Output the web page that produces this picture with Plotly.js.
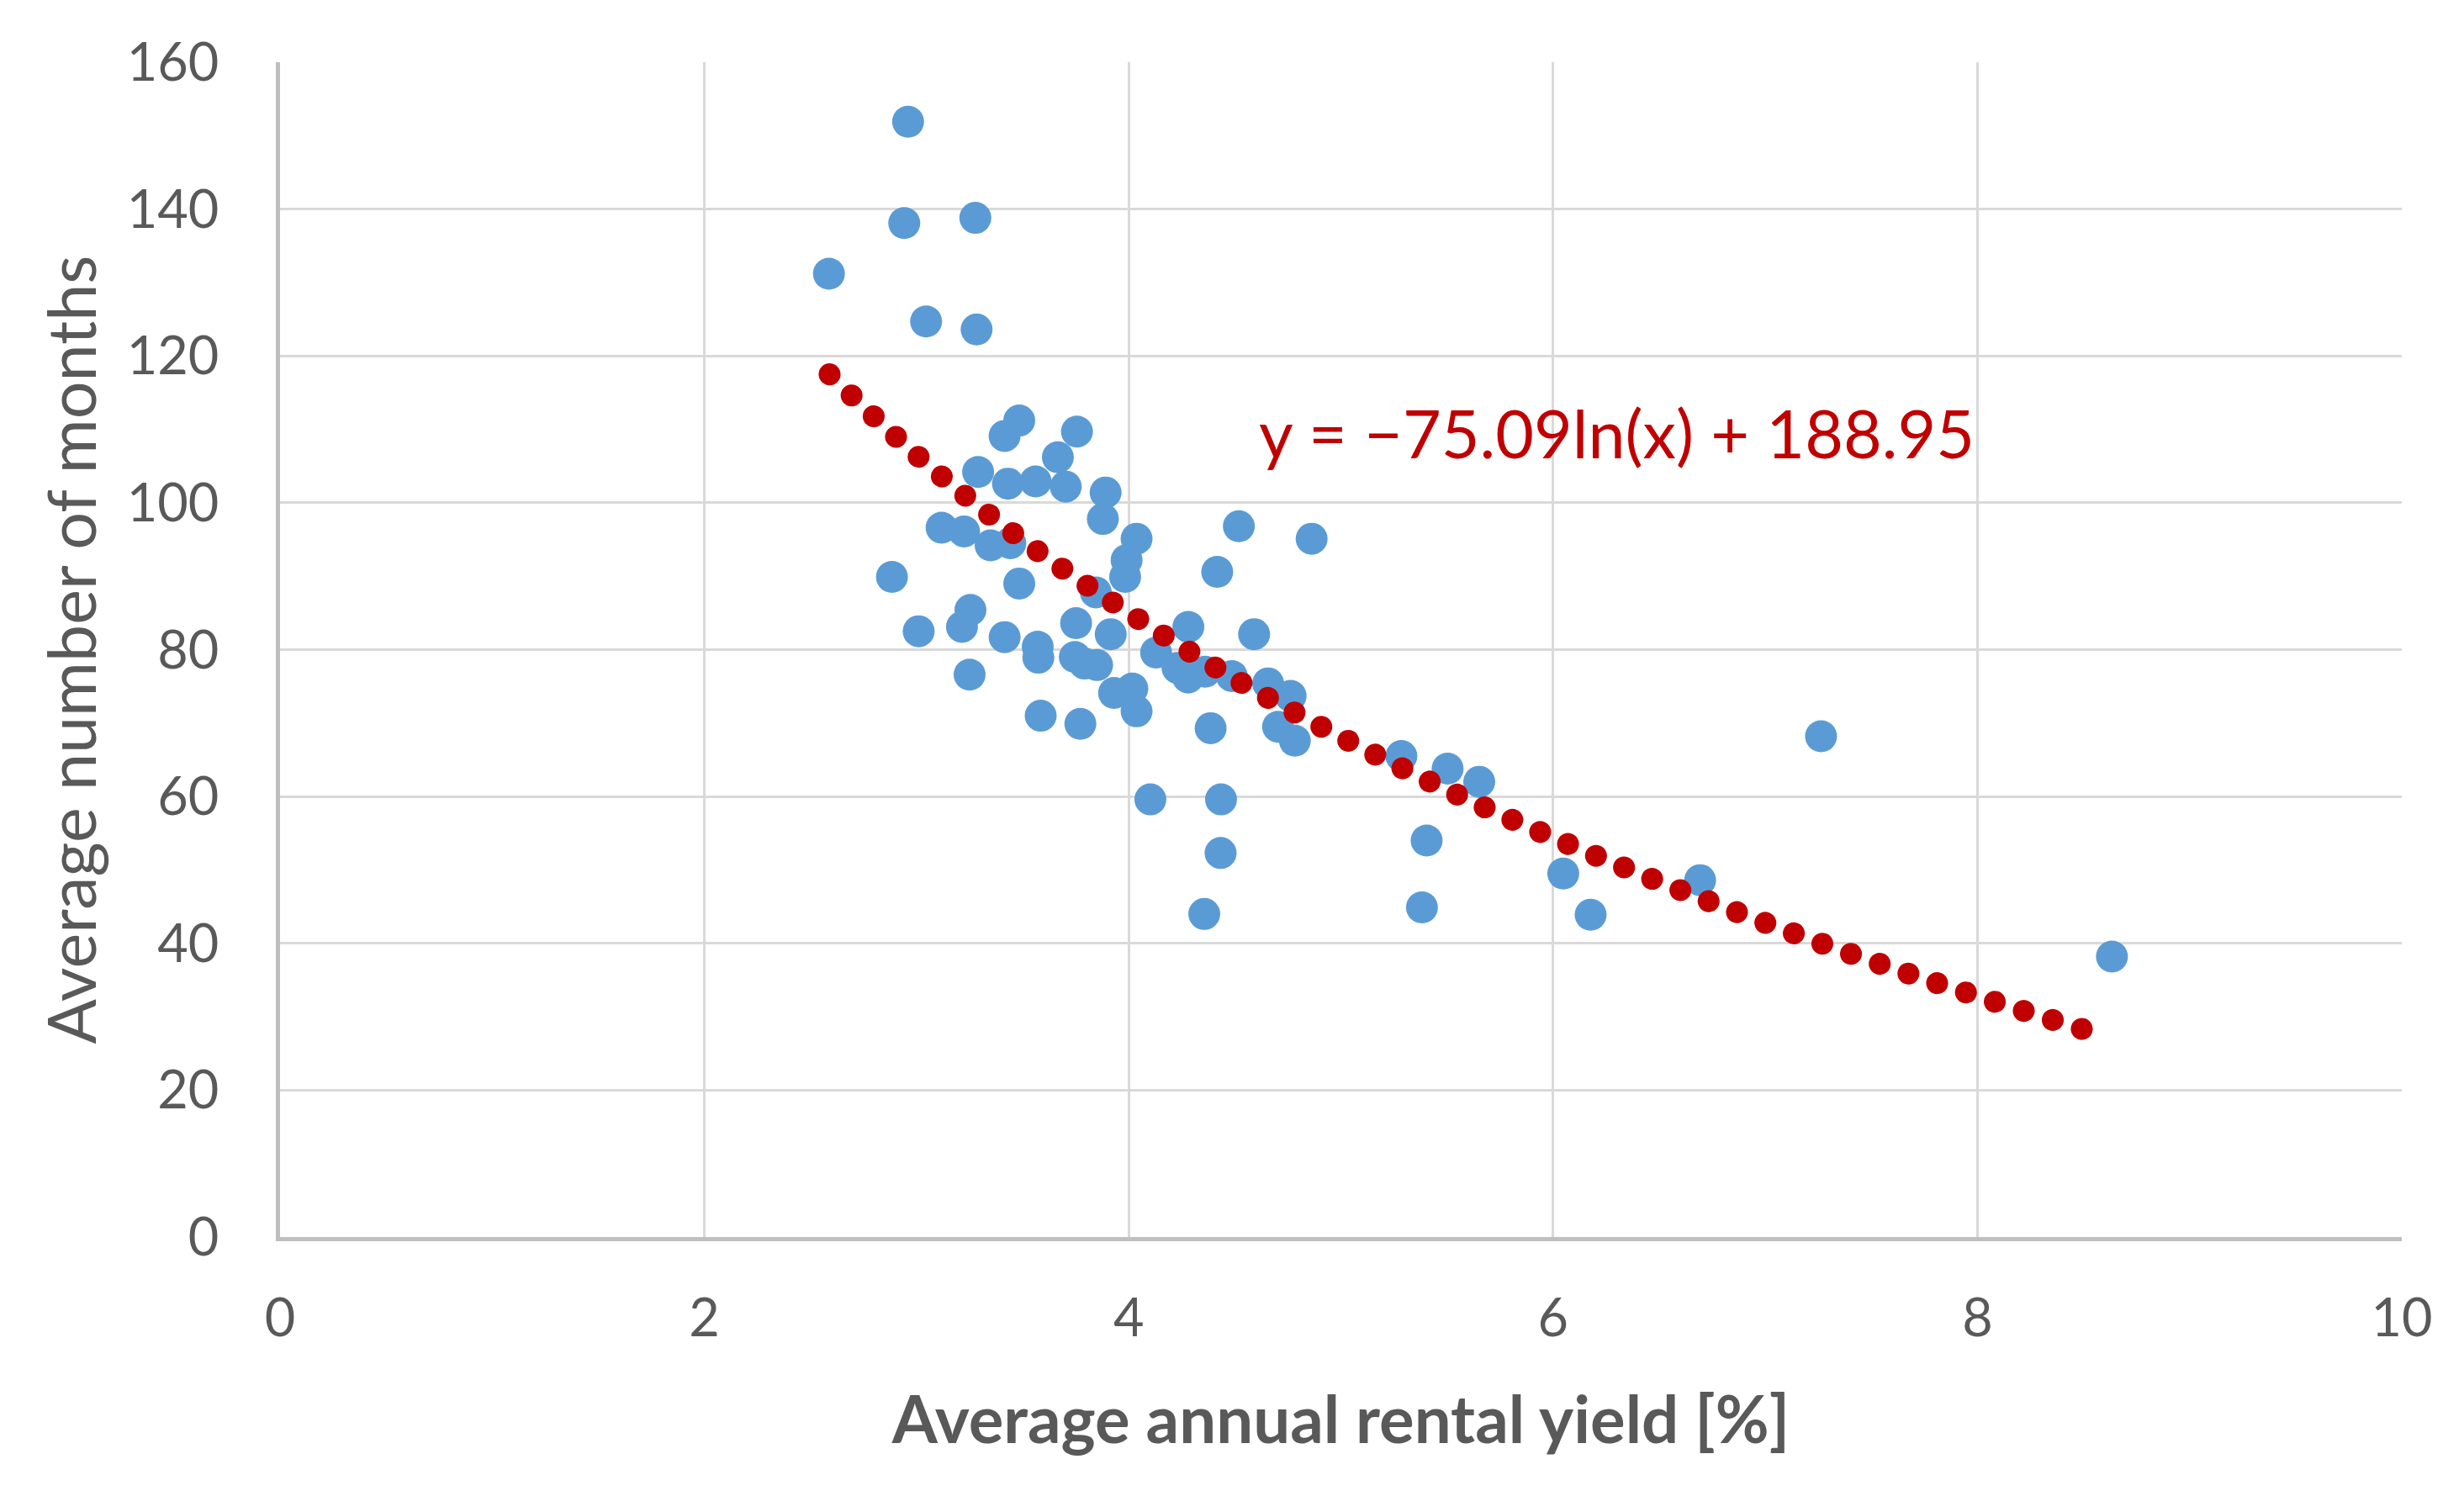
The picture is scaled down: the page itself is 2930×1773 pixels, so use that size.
<!DOCTYPE html>
<html>
<head>
<meta charset="utf-8">
<script src="https://cdn.plot.ly/plotly-3.0.1.min.js"></script>
<style>
html,body{margin:0;padding:0;background:#fff;}
#chart{width:2930px;height:1773px;}
</style>
</head>
<body>
<div id="chart"></div>
<script>
// Average annual rental yield [%]
const yieldPct = [
  2.960, 2.942, 3.277, 2.587, 3.045, 3.283,
  3.484, 3.415, 3.756, 3.666, 3.290, 3.431, 3.561, 3.703, 3.891, 3.878,
  3.118, 3.224, 3.349, 3.442, 4.037, 3.990, 3.983, 2.884, 3.484, 3.845,
  3.254, 3.214, 3.010, 3.752, 3.415, 3.915, 3.571, 3.574, 3.746, 3.792,
  3.851, 4.129, 3.250, 3.931, 4.017, 4.037, 3.585, 3.772,
  4.519, 4.862, 4.417, 4.281, 4.591, 4.230, 4.280, 4.360, 4.486, 4.386,
  4.657, 4.763, 4.704, 4.783, 5.285,
  4.102, 4.435, 4.433, 4.356,
  5.503, 5.652, 5.404, 5.382, 6.048, 6.177, 6.693,
  7.263, 8.634
];
// Average number of months
const months = [
  151.9, 138.1, 138.8, 131.2, 124.7, 123.6,
  111.2, 109.1, 109.7, 106.2, 104.2, 102.6, 102.9, 102.2, 101.4, 97.8,
  96.6, 96.1, 94.2, 94.5, 95.1, 92.2, 89.9, 89.9, 89.0, 87.8,
  85.4, 83.1, 82.5, 83.6, 81.7, 82.1, 80.4, 78.9, 79.0, 78.1,
  77.9, 79.6, 76.6, 74.1, 74.7, 71.6, 71.0, 69.9,
  96.8, 95.1, 90.6, 83.1, 82.1, 77.5, 76.2, 77.0, 76.4, 69.3,
  75.4, 73.7, 69.5, 67.6, 65.5,
  59.6, 59.6, 52.3, 44.0,
  63.8, 62.0, 54.0, 44.9, 49.5, 43.9, 48.6,
  68.2, 38.2
];
// Logarithmic trendline
const trendX = [2.59, 3.0, 3.5, 4.0, 4.5, 5.0, 5.5, 6.0, 6.5, 7.0, 7.5, 8.0, 8.62];
const trendY = [117.5, 106.5, 94.9, 85.0, 76.0, 68.1, 60.9, 54.4, 48.4, 42.8, 37.6, 32.8, 27.2];
const trendLabel = 'y = \u221275.09ln(x) + 188.95';
const xTitle = 'Average annual rental yield [%]';
const yTitle = 'Average number of months';
const xTicks = [0, 2, 4, 6, 8, 10];
const yTicks = [0, 20, 40, 60, 80, 100, 120, 140, 160];

const FONT = 'Lato, "Open Sans", sans-serif';

const data = [
  {
    type: 'scatter', mode: 'markers', x: yieldPct, y: months,
    marker: {color: '#5b9bd5', size: 38, line: {width: 0}},
    hoverinfo: 'skip', showlegend: false
  },
  {
    type: 'scatter', mode: 'lines', x: trendX, y: trendY,
    line: {color: '#c00000', width: 26, dash: 'dot', shape: 'spline'},
    hoverinfo: 'skip', showlegend: false
  }
];

const layout = {
  width: 2930, height: 1773,
  margin: {l: 333, r: 74, t: 74, b: 302},
  paper_bgcolor: '#fff', plot_bgcolor: '#fff',
  font: {family: FONT, color: '#595959', size: 63},
  showlegend: false,
  xaxis: {
    range: [0, 10], tickvals: xTicks, ticktext: xTicks.map(String),
    showgrid: true, gridcolor: '#d9d9d9', gridwidth: 3,
    zeroline: false, showline: true, linecolor: '#bfbfbf', linewidth: 5,
    ticks: '', ticklabelstandoff: 37,
    tickfont: {family: FONT, size: 63, color: '#595959'},
    title: {text: xTitle, font: {family: FONT, size: 78, color: '#595959', weight: 'bold'}, standoff: 62},
    fixedrange: true
  },
  yaxis: {
    range: [0, 160], tickvals: yTicks, ticktext: yTicks.map(String),
    showgrid: true, gridcolor: '#d9d9d9', gridwidth: 3,
    zeroline: false, showline: true, linecolor: '#bfbfbf', linewidth: 5,
    ticks: '', ticklabelstandoff: 55,
    tickfont: {family: FONT, size: 63, color: '#595959'},
    title: {text: yTitle, font: {family: FONT, size: 79, color: '#595959'}, standoff: 12},
    fixedrange: true
  },
  annotations: [{
    x: 6.30, y: 109.5, xref: 'x', yref: 'y', text: trendLabel, showarrow: false,
    font: {family: FONT, size: 79, color: '#c00000'}, xanchor: 'center', yanchor: 'middle'
  }]
};

Plotly.newPlot('chart', data, layout, {staticPlot: true, displayModeBar: false}).then(function(){
  document.querySelectorAll('.scatterlayer .trace').forEach(function(tr, i){
    if (i === 1) {
      tr.querySelectorAll('path.js-line').forEach(function(p){
        p.style.strokeWidth = '26px';
        p.style.strokeLinecap = 'round';
        p.style.strokeDasharray = '0.1px, 36px';
      });
    }
  });
});
</script>
</body>
</html>
